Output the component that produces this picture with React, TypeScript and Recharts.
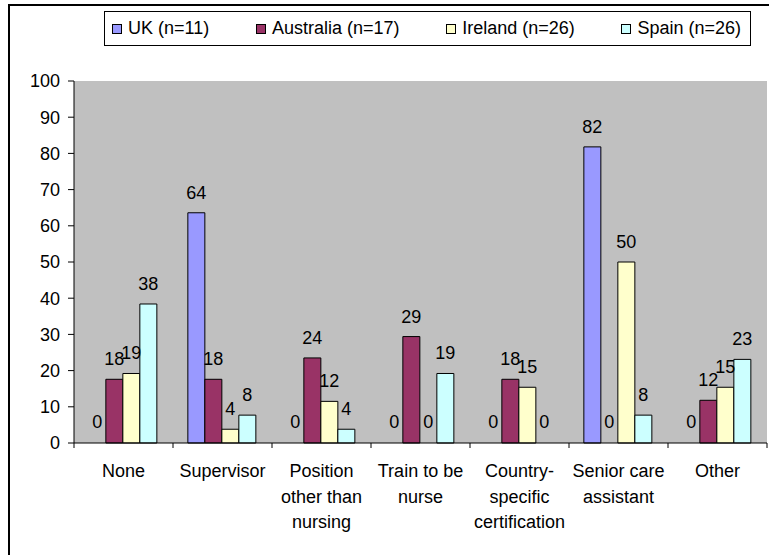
import React from 'react';
import {
  BarChart,
  Bar,
  XAxis,
  YAxis,
  LabelList,
  CartesianGrid,
  Rectangle
} from 'recharts';

// categories (each label split into the lines shown under the axis)
const categoryLines = [
  ['None'],
  ['Supervisor'],
  ['Position', 'other than', 'nursing'],
  ['Train to be', 'nurse'],
  ['Country-', 'specific', 'certification'],
  ['Senior care', 'assistant'],
  ['Other']
];

const seriesNames = ['UK (n=11)', 'Australia (n=17)', 'Ireland (n=26)', 'Spain (n=26)'];
const seriesColors = ['#9999FF', '#993366', '#FFFFCC', '#CCFFFF'];

// percentages
const ukValues = [0, 63.6, 0, 0, 0, 81.8, 0];
const australiaValues = [17.6, 17.6, 23.5, 29.4, 17.6, 0, 11.8];
const irelandValues = [19.2, 3.8, 11.5, 0, 15.4, 50, 15.4];
const spainValues = [38.4, 7.7, 3.8, 19.2, 0, 7.7, 23.1];

const yTicks = [0, 10, 20, 30, 40, 50, 60, 70, 80, 90, 100];

const FONT = '"Liberation Sans", Arial, sans-serif';
const FONT_SIZE = 18;

const seriesKeys = ['uk', 'australia', 'ireland', 'spain'];
const seriesValues = [ukValues, australiaValues, irelandValues, spainValues];

const chartData = categoryLines.map((lines, i) => {
  const row: any = { name: lines.join(' '), lines };
  seriesKeys.forEach((key, s) => {
    row[key] = seriesValues[s][i];
  });
  return row;
});

const CategoryTick = (props: any) => {
  const { x, y, payload, index, width, visibleTicksCount } = props;
  const half = payload.offset || width / (visibleTicksCount || 7) / 2;
  const lines: string[] = chartData[index]?.lines || [String(payload.value)];
  const axisY = y - 7;
  return (
    <g>
      <line x1={x - half} x2={x - half} y1={axisY} y2={axisY + 5} stroke="#000" />
      {index === chartData.length - 1 && (
        <line x1={x + half} x2={x + half} y1={axisY} y2={axisY + 5} stroke="#000" />
      )}
      <text x={x} y={y} textAnchor="middle" fontFamily={FONT} fontSize={FONT_SIZE} fill="#000">
        {lines.map((line, i) => (
          <tspan key={i} x={x} dy={i === 0 ? 27 : 25.5}>
            {line}
          </tspan>
        ))}
      </text>
    </g>
  );
};

// value above each bar, zeros included
const ValueLabel = (props: any) => {
  const { x, y, width, value } = props;
  if (value === undefined || value === null) return null;
  return (
    <text
      x={Number(x) + Number(width) / 2}
      y={Number(y) - 14}
      textAnchor="middle"
      fontFamily={FONT}
      fontSize={FONT_SIZE}
      fill="#000"
    >
      {String(Math.round(Number(value)))}
    </text>
  );
};

// zero bars get a 1px stub so their label exists, but nothing is drawn
const makeShape = (key: string) => (props: any) => {
  if (props.payload && props.payload[key] === 0) return <g />;
  return <Rectangle {...props} />;
};

const LegendBox = () => (
  <div
    style={{
      position: 'absolute',
      left: 104,
      top: 11,
      width: 629,
      height: 33,
      border: '1px solid #000',
      background: '#fff',
      display: 'flex',
      alignItems: 'center',
      justifyContent: 'space-between',
      padding: '0 9px 0 7px',
      boxSizing: 'content-box',
      fontFamily: FONT,
      fontSize: FONT_SIZE,
      color: '#000'
    }}
  >
    {seriesNames.map((name, i) => (
      <div key={name} style={{ display: 'flex', alignItems: 'center' }}>
        <span
          style={{
            display: 'inline-block',
            width: 8,
            height: 8,
            border: '1px solid #000',
            background: seriesColors[i],
            marginRight: 6
          }}
        />
        <span>{name}</span>
      </div>
    ))}
  </div>
);

export default function App() {
  return (
    <div
      style={{
        position: 'absolute',
        left: 0,
        top: 0,
        width: 769,
        height: 555,
        overflow: 'hidden',
        background: '#fff'
      }}
    >
      <div
        style={{
          position: 'absolute',
          left: 8,
          top: 4,
          width: 800,
          height: 600,
          border: '2px solid #000'
        }}
      />
      <BarChart
        width={769}
        height={555}
        data={chartData}
        margin={{ top: 81, right: 2, left: 0, bottom: 0 }}
        barCategoryGap="15%"
        barGap={0}
        style={{ position: 'absolute', left: 0, top: 0 }}
      >
        <CartesianGrid fill="#C0C0C0" horizontal={false} vertical={false} />
        <XAxis
          xAxisId="top"
          orientation="top"
          dataKey="name"
          height={0}
          tick={false}
          tickLine={false}
          axisLine={{ stroke: '#808080' }}
        />
        <YAxis
          yAxisId="right"
          orientation="right"
          width={0}
          tick={false}
          tickLine={false}
          axisLine={{ stroke: '#808080' }}
        />
        <XAxis
          dataKey="name"
          height={112}
          interval={0}
          tickSize={5}
          tickMargin={2}
          tickLine={{ stroke: 'none' }}
          axisLine={{ stroke: '#000' }}
          tick={<CategoryTick />}
        />
        <YAxis
          width={74}
          domain={[0, 100]}
          ticks={yTicks}
          interval={0}
          tickSize={6}
          tickMargin={8}
          axisLine={{ stroke: '#000' }}
          tickLine={{ stroke: '#000' }}
          tick={{ fill: '#000', fontFamily: FONT, fontSize: FONT_SIZE }}
        />
        {seriesKeys.map((key, i) => (
          <Bar
            key={key}
            dataKey={key}
            name={seriesNames[i]}
            fill={seriesColors[i]}
            stroke="#000"
            strokeWidth={1}
            minPointSize={1}
            shape={makeShape(key)}
            isAnimationActive={false}
          >
            <LabelList dataKey={key} content={<ValueLabel />} />
          </Bar>
        ))}
      </BarChart>
      <LegendBox />
    </div>
  );
}
